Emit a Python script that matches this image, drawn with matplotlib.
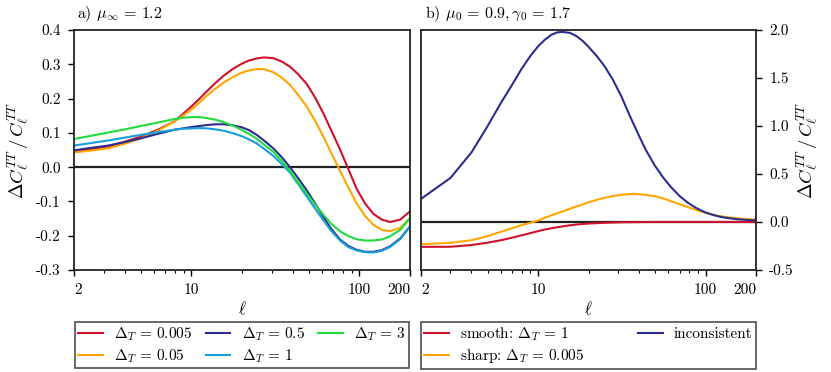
import matplotlib
matplotlib.use("Agg")
import matplotlib.pyplot as plt
from matplotlib.ticker import FixedLocator, FixedFormatter, NullFormatter, LogLocator

plt.rcParams['font.family'] = 'serif'
plt.rcParams['font.serif'] = ['cmr10', 'DejaVu Serif']
plt.rcParams['mathtext.fontset'] = 'cm'
plt.rcParams['axes.formatter.use_mathtext'] = True
plt.rcParams['axes.unicode_minus'] = False

# ---------------- data: panel a ----------------
ell_a = [2, 2.5, 3.2, 4, 5, 6.3, 7.9, 8.9, 10, 11.2, 12.4, 14, 15.6, 17.7, 20, 22, 24.5, 27,
         30.7, 34.5, 38.6, 43, 48.5, 54.5, 61, 68, 76.6, 86, 96, 108, 121, 136, 152, 175, 200]
dT_0005 = [0.046, 0.052, 0.060, 0.074, 0.089, 0.109, 0.133, 0.155, 0.177, 0.200, 0.222, 0.247,
           0.267, 0.287, 0.302, 0.311, 0.317, 0.320, 0.318, 0.308, 0.293, 0.272, 0.243, 0.203,
           0.157, 0.107, 0.052, -0.006, -0.062, -0.106, -0.136, -0.153, -0.160, -0.153, -0.129]
dT_005 = [0.043, 0.048, 0.055, 0.068, 0.084, 0.106, 0.133, 0.150, 0.168, 0.189, 0.209, 0.230,
          0.247, 0.263, 0.276, 0.282, 0.286, 0.286, 0.277, 0.261, 0.240, 0.212, 0.177, 0.135,
          0.089, 0.041, -0.010, -0.060, -0.105, -0.142, -0.168, -0.183, -0.187, -0.177, -0.149]
dT_05 = [0.049, 0.056, 0.063, 0.073, 0.084, 0.097, 0.109, 0.113, 0.117, 0.120, 0.123, 0.125,
         0.125, 0.122, 0.116, 0.108, 0.094, 0.078, 0.055, 0.029, 0.000, -0.031, -0.067, -0.106,
         -0.145, -0.180, -0.211, -0.230, -0.241, -0.247, -0.247, -0.242, -0.231, -0.208, -0.173]
dT_1 = [0.063, 0.070, 0.078, 0.086, 0.094, 0.102, 0.109, 0.112, 0.113, 0.114, 0.113, 0.110,
        0.106, 0.099, 0.090, 0.081, 0.069, 0.054, 0.033, 0.009, -0.016, -0.048, -0.085, -0.121,
        -0.155, -0.186, -0.214, -0.233, -0.243, -0.248, -0.249, -0.244, -0.233, -0.210, -0.173]
dT_3 = [0.082, 0.091, 0.101, 0.110, 0.120, 0.130, 0.140, 0.144, 0.146, 0.146, 0.143, 0.138,
        0.131, 0.121, 0.108, 0.097, 0.083, 0.066, 0.045, 0.018, -0.011, -0.043, -0.077, -0.109,
        -0.139, -0.165, -0.187, -0.201, -0.210, -0.214, -0.214, -0.211, -0.202, -0.183, -0.149]

# ---------------- data: panel b ----------------
ell_incons = [2, 3, 4, 5, 6, 7, 8, 9, 10, 11, 12, 13, 14, 15.5, 17, 18.5, 20, 22.5, 25, 28,
              31.4, 35, 39.5, 44, 49.7, 56, 62.4, 70, 78.5, 88, 98.8, 111, 124, 140, 156, 177, 200]
incons = [0.241, 0.459, 0.724, 1.00, 1.24, 1.43, 1.60, 1.73, 1.83, 1.90, 1.95, 1.975, 1.98,
          1.97, 1.935, 1.885, 1.825, 1.725, 1.62, 1.48, 1.31, 1.12, 0.92, 0.75, 0.59, 0.46,
          0.36, 0.27, 0.200, 0.145, 0.103, 0.073, 0.052, 0.038, 0.028, 0.021, 0.017]
ell_sharp = [2, 3, 4, 5, 6, 7, 8, 9, 10, 11, 12.3, 14, 15.5, 17.5, 20, 22.5, 25, 28, 31.4,
             34.5, 37.7, 43, 49.7, 56, 62.4, 70, 78.5, 88, 98.8, 111, 124, 140, 156, 177, 200]
sharp = [-0.231, -0.217, -0.19, -0.147, -0.102, -0.064, -0.032, -0.008, 0.015, 0.045, 0.076,
         0.11, 0.138, 0.17, 0.205, 0.232, 0.252, 0.270, 0.283, 0.290, 0.293, 0.285, 0.269,
         0.245, 0.217, 0.185, 0.155, 0.125, 0.097, 0.075, 0.059, 0.047, 0.038, 0.030, 0.024]
ell_smooth = [2, 3, 4, 5, 6, 7, 8, 9, 10, 11, 12.3, 14, 15.5, 17.5, 20, 25, 31.4, 40, 50, 70,
              100, 150, 200]
smooth = [-0.259, -0.258, -0.24, -0.215, -0.19, -0.163, -0.138, -0.116, -0.095, -0.078, -0.062,
          -0.046, -0.034, -0.024, -0.016, -0.008, -0.003, -0.001, 0.0, 0.0, 0.0, 0.0, 0.0]

xticks = [2, 10, 100, 200]
xticklabels = ['2', '10', '100', '200']
yticks_a = [-0.3, -0.2, -0.1, 0.0, 0.1, 0.2, 0.3, 0.4]
yticklabels_a = ['-0.3', '-0.2', '-0.1', '0.0', '0.1', '0.2', '0.3', '0.4']
yticks_b = [-0.5, 0.0, 0.5, 1.0, 1.5, 2.0]
yticklabels_b = ['-0.5', '0.0', '0.5', '1.0', '1.5', '2.0']

RED = '#D0102C'
ORANGE = '#FFA600'
DBLUE = '#2B2E8E'
LBLUE = '#169FD9'
GREEN = '#1FDC3C'

fig = plt.figure(figsize=(8.31, 3.72), dpi=100)
axa = fig.add_axes([74/831, 102/372, 336/831, 240/372])
axb = fig.add_axes([421/831, 102/372, 335/831, 240/372])

lw = 1.5
axa.axhline(0, color='#222222', lw=1.6, zorder=1)
axa.plot(ell_a, dT_0005, color=RED, lw=lw, label=r'$\Delta_T\,=\,0.005$')
axa.plot(ell_a, dT_005, color=ORANGE, lw=lw, label=r'$\Delta_T\,=\,0.05$')
axa.plot(ell_a, dT_05, color=DBLUE, lw=lw, label=r'$\Delta_T\,=\,0.5$')
axa.plot(ell_a, dT_1, color=LBLUE, lw=lw, label=r'$\Delta_T\,=\,1$')
axa.plot(ell_a, dT_3, color=GREEN, lw=lw, label=r'$\Delta_T\,=\,3$')

axb.axhline(0, color='#222222', lw=1.6, zorder=1)
axb.plot(ell_smooth, smooth, color=RED, lw=lw, label=r'smooth: $\Delta_T\,=\,1$')
axb.plot(ell_sharp, sharp, color=ORANGE, lw=lw, label=r'sharp: $\Delta_T\,=\,0.005$')
axb.plot(ell_incons, incons, color=DBLUE, lw=lw, label='inconsistent')

for ax in (axa, axb):
    ax.set_xscale('log')
    ax.set_xlim(2, 200)
    ax.xaxis.set_major_locator(FixedLocator(xticks))
    ax.xaxis.set_major_formatter(FixedFormatter(xticklabels))
    ax.xaxis.set_minor_locator(LogLocator(base=10, subs=range(2, 10), numticks=20))
    ax.xaxis.set_minor_formatter(NullFormatter())
    ax.tick_params(axis='both', which='major', direction='out', length=4.5, width=1.0,
                   labelsize=11, pad=5)
    ax.tick_params(axis='x', which='minor', direction='out', length=2.5, width=0.8)
    ax.set_xlabel(r'$\ell$', fontsize=12, labelpad=2)
    for s in ax.spines.values():
        s.set_linewidth(1.3)
        s.set_color('#222222')
    labs = ax.get_xticklabels()
    labs[0].set_ha('left')
    labs[-1].set_ha('right')

ylab = r'$\Delta C_\ell^{TT}\,/\,C_\ell^{TT}$'
axa.set_ylim(-0.3, 0.4)
axa.yaxis.set_major_locator(FixedLocator(yticks_a))
axa.yaxis.set_major_formatter(FixedFormatter(yticklabels_a))
axa.set_ylabel(ylab, fontsize=13.5)
axa.yaxis.set_label_coords(-0.125, 0.5)

axb.set_ylim(-0.5, 2.0)
axb.yaxis.tick_right()
axb.yaxis.set_label_position('right')
axb.yaxis.set_major_locator(FixedLocator(yticks_b))
axb.yaxis.set_major_formatter(FixedFormatter(yticklabels_b))
axb.set_ylabel(ylab, fontsize=13.5)
axb.yaxis.set_label_coords(1.115, 0.5)

axa.text(0.01, 1.025, r'a) $\mu_\infty\,=\,1.2$', transform=axa.transAxes, fontsize=11.5,
         ha='left', va='bottom')
axb.text(0.012, 1.025, r'b) $\mu_0\,=\,0.9, \gamma_0\,=\,1.7$', transform=axb.transAxes,
         fontsize=11.5, ha='left', va='bottom')

leg_kw = dict(loc='upper left', mode='expand', fontsize=11, frameon=True, fancybox=False,
              handlelength=1.6, handletextpad=0.75, borderpad=0.22, labelspacing=0.28,
              borderaxespad=0.0)
la = axa.legend(ncol=3, bbox_to_anchor=(0.003, -0.404, 0.994, 0.187), columnspacing=1.0, **leg_kw)
lb = axb.legend(ncol=2, bbox_to_anchor=(0.0, -0.404, 1.0, 0.187), columnspacing=1.0, **leg_kw)
for lg in (la, lb):
    fr = lg.get_frame()
    fr.set_edgecolor('#222222')
    fr.set_linewidth(1.2)

fig.savefig('out.png', dpi=100)
